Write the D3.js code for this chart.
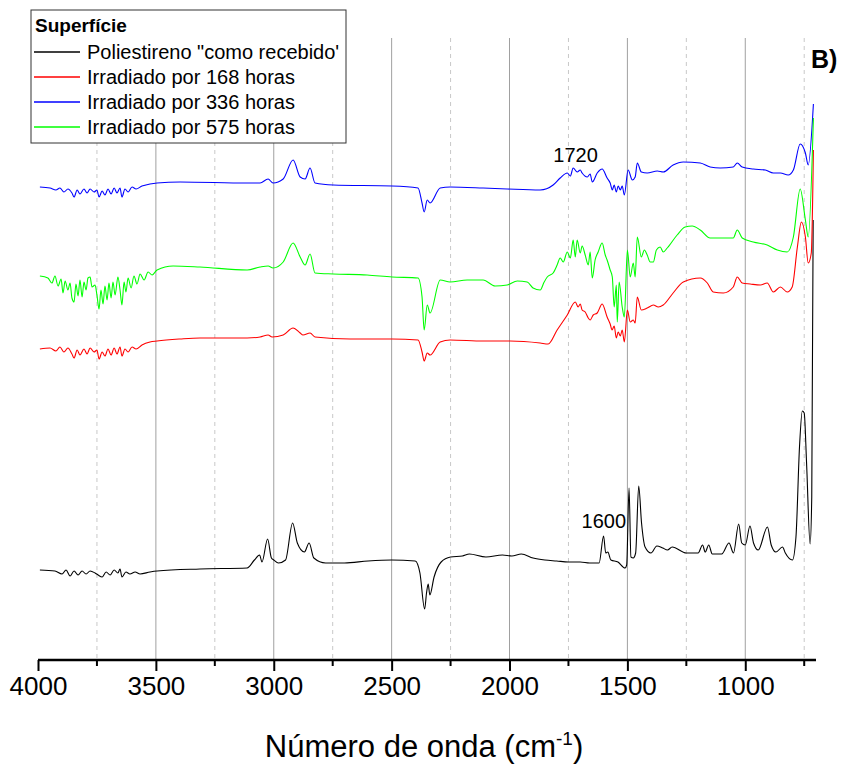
<!DOCTYPE html>
<html>
<head>
<meta charset="utf-8">
<script src="https://cdn.jsdelivr.net/npm/d3@7"></script>
<style>
  body { margin: 0; background: #fff; }
  svg { font-family: "Liberation Sans", Arial, sans-serif; }
  .grid-major line { stroke: #a0a0a0; stroke-width: 1; }
  .grid-minor line { stroke: #c8c8c8; stroke-width: 1; stroke-dasharray: 4,4; }
  .spectrum { fill: none; stroke-width: 1.1; stroke-linejoin: round; }
</style>
</head>
<body>
<svg id="chart" width="844" height="764"></svg>
<script>
// wavenumber (cm-1), intensity (a.u., offset per curve)
const recebido = [
  [3992,9.0],[3928,8.9],[3898,8.6],[3881,9.0],[3864,8.4],[3847,8.9],[3830,8.5],[3813,8.9],
  [3796,8.6],[3779,8.9],[3758,8.7],[3745,8.5],[3728,8.3],[3711,8.8],[3694,8.5],[3677,9.0],
  [3661,8.7],[3652,9.1],[3644,8.3],[3627,8.8],[3610,8.6],[3588,8.8],[3567,8.6],[3525,8.8],
  [3495,8.9],[3313,9.1],[3113,9.2],[3082,10.0],[3060,10.5],[3050,9.8],[3026,12.1],[3010,10.2],
  [3000,10.0],[2980,9.7],[2950,10.0],[2920,13.7],[2900,11.7],[2870,10.8],[2850,11.7],[2830,10.2],
  [2780,9.7],[2700,9.7],[2600,9.9],[2500,10.0],[2400,9.9],[2380,8.7],[2360,5.1],[2352,6.7],
  [2345,7.6],[2338,6.5],[2320,8.3],[2290,9.8],[2250,10.3],[2200,10.4],[2170,10.6],[2100,10.3],
  [2030,10.5],[1990,10.4],[1950,10.6],[1900,10.2],[1850,10.0],[1800,9.9],[1750,9.8],[1700,9.8],
  [1660,9.7],[1620,9.7],[1601,12.4],[1592,10.7],[1583,10.8],[1570,10.0],[1540,9.8],[1510,9.2],
  [1503,9.5],[1493,17.2],[1485,10.3],[1475,10.2],[1465,10.7],[1452,17.4],[1440,13.7],[1425,11.3],
  [1400,10.7],[1375,11.4],[1350,11.2],[1330,11.0],[1310,11.3],[1250,10.7],[1200,10.7],[1181,11.5],
  [1170,10.8],[1155,11.5],[1140,10.6],[1100,10.6],[1069,11.7],[1050,10.7],[1028,13.6],[1015,11.7],
  [1000,11.5],[980,13.4],[965,11.7],[945,11.0],[906,13.3],[890,11.5],[870,10.8],[842,11.3],
  [830,10.7],[800,10.0],[785,12.3],[770,21.3],[758,24.9],[750,24.7],[740,19.7],[725,11.6],
  [718,16.3],[712,44.0]
];

const h168 = [
  [3992,31.1],[3949,31.2],[3924,30.9],[3907,31.3],[3890,30.8],[3873,31.2],[3856,30.6],[3847,30.2],
  [3834,31.0],[3822,30.5],[3805,31.1],[3792,30.6],[3779,31.2],[3762,30.8],[3750,31.0],[3741,30.1],
  [3728,30.8],[3716,30.4],[3703,31.1],[3690,30.5],[3677,31.2],[3665,30.6],[3652,31.3],[3644,30.4],
  [3631,31.1],[3618,30.8],[3601,31.3],[3584,31.1],[3559,31.5],[3525,31.8],[3495,31.9],[3397,32.1],
  [3313,32.2],[3113,32.2],[3058,32.3],[3024,32.5],[3007,32.3],[2960,32.5],[2918,33.2],[2888,32.7],
  [2876,32.5],[2846,32.7],[2825,32.3],[2676,32.1],[2498,32.1],[2388,32.0],[2371,30.8],[2362,29.9],
  [2349,30.7],[2337,30.5],[2294,31.8],[2252,32.0],[2112,31.9],[1997,31.9],[1870,31.7],[1836,31.6],
  [1798,33.0],[1755,34.5],[1721,35.8],[1709,35.3],[1700,35.6],[1692,35.0],[1679,34.8],[1666,34.2],
  [1658,34.0],[1645,34.5],[1628,34.7],[1607,35.6],[1586,34.3],[1573,33.6],[1565,33.0],[1556,33.4],
  [1547,32.2],[1539,32.8],[1530,32.4],[1522,33.0],[1513,31.8],[1500,35.0],[1488,33.8],[1475,34.0],
  [1467,33.7],[1458,36.3],[1441,35.0],[1416,35.2],[1390,35.5],[1369,35.3],[1348,35.5],[1306,36.7],
  [1263,37.8],[1191,38.2],[1161,37.7],[1136,36.8],[1093,36.7],[1051,37.3],[1034,38.3],[1013,37.7],
  [979,37.6],[936,37.5],[907,37.7],[881,36.8],[851,37.3],[822,36.8],[801,37.3],[779,41.3],
  [762,43.8],[745,42.3],[733,39.7],[720,40.7],[711,51.0]
];

const h336 = [
  [3992,47.3],[3949,47.2],[3924,47.0],[3907,47.2],[3890,46.8],[3873,47.1],[3856,46.7],[3847,46.3],
  [3834,47.0],[3822,46.6],[3805,47.1],[3792,46.7],[3779,47.1],[3762,46.8],[3750,47.0],[3741,46.3],
  [3728,46.9],[3716,46.5],[3703,47.1],[3690,46.6],[3677,47.2],[3665,46.7],[3652,47.2],[3644,46.3],
  [3631,47.1],[3618,46.8],[3601,47.3],[3584,47.1],[3559,47.4],[3525,47.6],[3495,47.7],[3397,47.8],
  [3113,47.7],[3058,47.7],[3024,48.1],[3003,47.7],[2960,48.1],[2918,50.0],[2888,48.3],[2867,48.1],
  [2846,49.2],[2825,47.7],[2748,47.5],[2498,47.4],[2388,47.2],[2371,45.7],[2362,44.8],[2349,46.0],
  [2337,45.7],[2294,47.2],[2252,47.3],[2112,47.2],[2010,47.1],[1870,47.0],[1815,47.5],[1785,48.2],
  [1755,48.7],[1742,48.4],[1730,49.2],[1713,48.8],[1700,49.0],[1692,48.7],[1670,48.3],[1658,48.6],
  [1649,47.8],[1628,48.7],[1607,49.1],[1586,48.2],[1573,47.7],[1564,47.0],[1556,47.5],[1547,46.8],
  [1539,47.4],[1530,47.0],[1522,47.4],[1513,46.5],[1497,49.0],[1479,48.0],[1467,48.3],[1458,49.7],
  [1441,48.8],[1416,48.7],[1373,48.9],[1348,48.8],[1306,49.5],[1263,49.8],[1191,49.7],[1149,49.3],
  [1106,49.2],[1051,49.3],[1034,49.7],[1013,49.3],[966,49.1],[915,49.0],[881,48.7],[851,48.7],
  [818,48.5],[796,49.0],[767,51.6],[745,50.7],[733,49.5],[711,55.6]
];

const h575 = [
  [3992,38.4],[3958,38.2],[3941,37.7],[3928,38.4],[3915,37.4],[3902,38.1],[3894,36.7],[3885,37.9],
  [3873,37.0],[3864,37.7],[3856,36.2],[3847,35.8],[3839,37.6],[3830,36.4],[3822,38.0],[3813,36.3],
  [3805,37.8],[3796,37.0],[3788,38.2],[3779,38.3],[3771,37.3],[3758,37.5],[3750,36.5],[3741,35.1],
  [3733,37.0],[3724,35.6],[3716,37.4],[3707,36.0],[3699,37.7],[3690,36.2],[3682,37.8],[3673,36.5],
  [3661,38.3],[3652,37.0],[3644,35.5],[3635,37.8],[3627,36.8],[3618,38.2],[3605,37.2],[3593,38.4],
  [3580,37.6],[3567,38.6],[3550,38.0],[3533,38.8],[3516,38.5],[3495,39.0],[3427,39.4],[3313,39.3],
  [3113,39.0],[3058,39.3],[3024,39.4],[3003,39.2],[2960,39.8],[2918,41.7],[2888,40.3],[2867,39.5],
  [2846,40.6],[2825,38.7],[2748,38.6],[2604,38.5],[2498,38.3],[2388,38.2],[2371,36.3],[2362,33.0],
  [2349,35.5],[2337,34.7],[2294,38.0],[2252,37.8],[2180,38.0],[2112,38.0],[2061,37.4],[2010,37.5],
  [1967,37.9],[1925,37.8],[1900,37.2],[1870,37.0],[1853,37.8],[1840,38.3],[1815,38.7],[1798,39.5],
  [1785,40.2],[1772,39.8],[1755,40.8],[1742,40.2],[1730,42.0],[1721,40.3],[1713,42.0],[1700,40.7],
  [1692,41.4],[1679,40.5],[1666,39.5],[1658,40.8],[1649,38.2],[1637,40.0],[1624,40.8],[1607,41.7],
  [1594,40.5],[1586,40.0],[1573,39.0],[1564,38.3],[1556,35.3],[1547,37.5],[1543,33.8],[1535,37.8],
  [1522,35.3],[1513,34.3],[1500,41.0],[1488,38.3],[1475,39.7],[1467,38.3],[1458,42.3],[1441,40.3],
  [1428,41.0],[1416,40.5],[1403,39.8],[1390,39.8],[1377,41.0],[1361,41.3],[1348,40.8],[1331,41.2],
  [1289,42.5],[1255,43.3],[1225,43.4],[1191,43.0],[1149,42.2],[1106,42.2],[1051,42.2],[1034,43.0],
  [1013,42.2],[966,41.8],[907,41.5],[864,41.0],[822,40.8],[796,42.3],[767,47.1],[745,44.0],
  [733,42.3],[711,54.2]
];

const seriesNames = ['Poliestireno "como recebido\'', 'Irradiado por 168 horas', 'Irradiado por 336 horas', 'Irradiado por 575 horas'];
const seriesColors = ['#000000', '#ff0000', '#0000ff', '#00ff00'];
const seriesData = [recebido, h168, h336, h575];
const majorTicks = [4000, 3500, 3000, 2500, 2000, 1500, 1000];
const minorTicks = [3750, 3250, 2750, 2250, 1750, 1250, 750];
const peakLabels = [{ wn: 1720, v: 49.8, text: '1720' }, { wn: 1600, v: 13.2, text: '1600' }];

const svg = d3.select('#chart');
const margin = { left: 38, right: 28, top: 38, bottom: 104 };
const width = 844, height = 764;

const x = d3.scaleLinear().domain([4000, 700]).range([margin.left, width - margin.right]);
const y = d3.scaleLinear().domain([0, 62.2]).range([height - margin.bottom, margin.top]);

// grids
svg.append('g').attr('class', 'grid-minor')
  .selectAll('line').data(minorTicks).enter().append('line')
  .attr('x1', d => x(d)).attr('x2', d => x(d))
  .attr('y1', margin.top).attr('y2', height - margin.bottom);

svg.append('g').attr('class', 'grid-major')
  .selectAll('line').data(majorTicks.slice(1)).enter().append('line')
  .attr('x1', d => x(d)).attr('x2', d => x(d))
  .attr('y1', margin.top).attr('y2', height - margin.bottom);

// spectra
const line = d3.line()
  .curve(d3.curveMonotoneX)
  .x(d => x(d[0]))
  .y(d => y(d[1]));

seriesData.forEach((data, i) => {
  svg.append('path')
    .datum(data)
    .attr('class', 'spectrum')
    .attr('d', line)
    .style('stroke', seriesColors[i]);
});

// x axis
const xAxis = svg.append('g')
  .attr('transform', `translate(0,${height - margin.bottom})`)
  .call(d3.axisBottom(x).tickValues(majorTicks).tickSize(11).tickSizeOuter(0).tickPadding(6).tickFormat(d3.format('d')));
xAxis.select('.domain').attr('stroke-width', 2.5).attr('d', `M${margin.left},0H${width - margin.right}`);
xAxis.selectAll('.tick line').attr('stroke-width', 2);
xAxis.selectAll('.tick text').style('font-size', '26px').attr('fill', '#000');

svg.append('g')
  .attr('transform', `translate(0,${height - margin.bottom})`)
  .selectAll('line').data(minorTicks).enter().append('line')
  .attr('x1', d => x(d)).attr('x2', d => x(d))
  .attr('y1', 0).attr('y2', 6)
  .attr('stroke', '#000').attr('stroke-width', 2);

// axis title
const title = svg.append('text')
  .attr('x', 424).attr('y', 757)
  .attr('text-anchor', 'middle')
  .style('font-size', '31px');
title.append('tspan').text('Número de onda (cm');
title.append('tspan').attr('dy', -12).style('font-size', '19px').text('-1');
title.append('tspan').attr('dy', 12).text(')');

// peak labels
svg.selectAll('.peak').data(peakLabels).enter().append('text')
  .attr('class', 'peak')
  .attr('x', d => x(d.wn))
  .attr('y', d => y(d.v))
  .attr('text-anchor', 'middle')
  .style('font-size', '20px')
  .text(d => d.text);

// panel label
svg.append('text')
  .attr('x', 811).attr('y', 68)
  .style('font-size', '25px').style('font-weight', 'bold')
  .text('B)');

// legend
const legend = svg.append('g').attr('transform', 'translate(31,10)');
legend.append('rect')
  .attr('x', 0).attr('y', 0).attr('width', 315).attr('height', 133)
  .attr('fill', '#fff').attr('stroke', '#333').attr('stroke-width', 1);
legend.append('text')
  .attr('x', 4).attr('y', 22)
  .style('font-size', '19px').style('font-weight', 'bold')
  .text('Superfície');
seriesNames.forEach((name, i) => {
  const cy = 42 + i * 25;
  legend.append('line')
    .attr('x1', 3).attr('x2', 49).attr('y1', cy).attr('y2', cy)
    .attr('stroke', seriesColors[i]).attr('stroke-width', 1.3);
  legend.append('text')
    .attr('x', 56).attr('y', cy + 7)
    .style('font-size', '20px')
    .text(name);
});
</script>
</body>
</html>
